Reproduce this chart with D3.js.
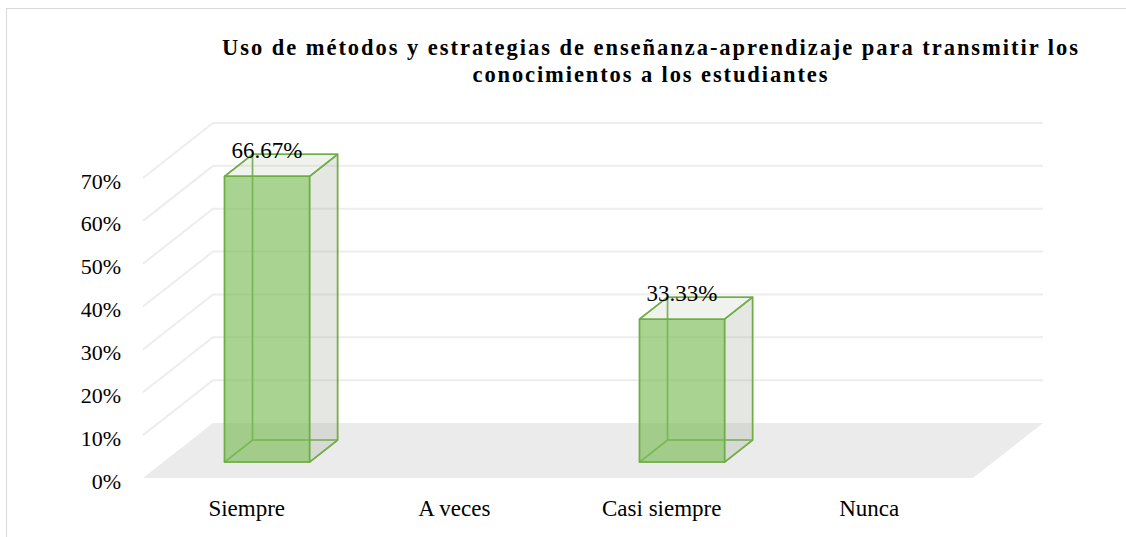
<!DOCTYPE html>
<html>
<head>
<meta charset="utf-8">
<script src="https://cdn.jsdelivr.net/npm/d3@7"></script>
<style>
  body { margin: 0; background: #fff; }
  svg text { font-family: "Liberation Serif", "Times New Roman", serif !important; fill: #000; }
</style>
</head>
<body>
<div id="chart"></div>
<script>
const categories = ["Siempre", "A veces", "Casi siempre", "Nunca"];
const values = [0.6667, 0, 0.3333, 0];
const valueLabels = ["66.67%", "", "33.33%", ""];
const yTicks = [0, 0.1, 0.2, 0.3, 0.4, 0.5, 0.6, 0.7];
const titleLines = [
    "Uso de métodos y estrategias de enseñanza-aprendizaje para transmitir los",
    "conocimientos a los estudiantes"
];

const width = 1126;
const height = 537;
// oblique depth offset of the floor
const DX = 70, DY = 55;
// bars sit in the middle of the depth
const z0 = 0.29, z1 = 0.69;

const svg = d3.select('#chart')
    .append('svg')
    .attr('width', width)
    .attr('height', height);

svg.append('rect')
    .attr('x', 6.5).attr('y', 8.5)
    .attr('width', width).attr('height', height)
    .attr('fill', 'none')
    .attr('stroke', '#d9d9d9');

const xScale = d3.scaleBand()
    .domain(categories)
    .range([143, 973])
    .paddingInner(0.59)
    .paddingOuter(0.295);

const yScale = d3.scaleLinear()
    .domain([0, 0.7])
    .range([478, 178]);

const P = (x, v, z) => [x + z * DX, yScale(v) - z * DY];
const poly = pts => 'M' + pts.map(p => p.join(',')).join('L') + 'Z';

// side wall diagonals + back wall gridlines
const grid = svg.append('g')
    .attr('stroke', '#ededed')
    .attr('stroke-width', 2)
    .attr('fill', 'none');
yTicks.filter(t => t > 0).forEach(t => {
    const a = P(143, t, 0), b = P(143, t, 1), c = P(973, t, 1);
    grid.append('path').attr('d', `M${a}L${b}L${c}`);
});

// floor
svg.append('path')
    .attr('d', poly([P(143, 0, 0), P(973, 0, 0), P(973, 0, 1), P(143, 0, 1)]))
    .attr('fill', '#ebebeb');

const bars = categories.map((c, i) => ({ c, v: values[i], label: valueLabels[i] }))
    .filter(d => d.v > 0);

const edge = { stroke: '#70ad47', 'stroke-width': 1.5, 'stroke-linejoin': 'round' };

bars.forEach(d => {
    const x0 = xScale(d.c), x1 = x0 + xScale.bandwidth(), v = d.v;
    const g = svg.append('g');
    const face = (pts, fill) => {
        const p = g.append('path').attr('d', poly(pts)).attr('fill', fill);
        Object.entries(edge).forEach(([k, val]) => p.attr(k, val));
        return p;
    };
    // hidden faces (seen through)
    face([P(x0, 0, z1), P(x1, 0, z1), P(x1, v, z1), P(x0, v, z1)], 'none').attr('stroke-opacity', 0.8);
    face([P(x0, 0, z0), P(x0, 0, z1), P(x0, v, z1), P(x0, v, z0)], 'none').attr('stroke-opacity', 0.8);
    face([P(x0, 0, z0), P(x1, 0, z0), P(x1, 0, z1), P(x0, 0, z1)], 'none').attr('stroke-opacity', 0.8);
    // visible faces
    face([P(x1, 0, z0), P(x1, 0, z1), P(x1, v, z1), P(x1, v, z0)], 'rgba(170,180,160,0.3)');
    face([P(x0, v, z0), P(x1, v, z0), P(x1, v, z1), P(x0, v, z1)], 'rgba(180,190,170,0.2)');
    face([P(x0, 0, z0), P(x1, 0, z0), P(x1, v, z0), P(x0, v, z0)], 'rgba(125,188,88,0.66)');

    svg.append('text')
        .attr('x', (x0 + x1) / 2 + z0 * DX)
        .attr('y', P(x0, v, z1)[1] + 4)
        .attr('text-anchor', 'middle')
        .attr('font-size', 23)
        .text(d.label);
});

// y axis labels
const yAxis = svg.append('g')
    .attr('transform', 'translate(121,3)')
    .call(d3.axisLeft(yScale).tickValues(yTicks).tickFormat(d3.format('.0%')).tickSize(0).tickPadding(0));
yAxis.select('.domain').remove();
yAxis.attr('font-family', null);
yAxis.selectAll('text').attr('font-size', 22);

// x axis labels
const xAxis = svg.append('g')
    .attr('transform', 'translate(0,480)')
    .call(d3.axisBottom(xScale).tickSize(0).tickPadding(20));
xAxis.select('.domain').remove();
xAxis.attr('font-family', null);
xAxis.selectAll('text').attr('font-size', 23);

// title
const titleW = [856, 355];
titleLines.forEach((t, i) => {
    svg.append('text')
        .attr('x', 650 - titleW[i] / 2)
        .attr('y', 55 + i * 27)
        .attr('font-size', 22.5)
        .attr('font-weight', 'bold')
        .attr('textLength', titleW[i])
        .attr('lengthAdjust', 'spacing')
        .text(t);
});
</script>
</body>
</html>
